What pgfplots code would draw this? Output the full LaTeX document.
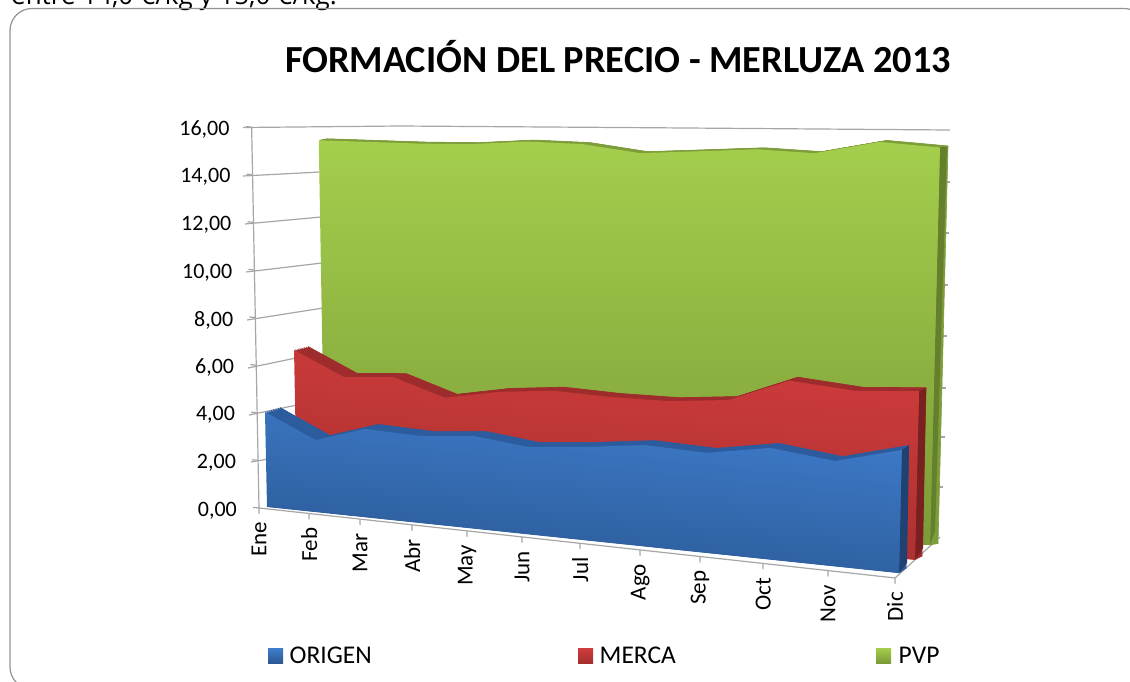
\documentclass[border=0pt]{standalone}
\usepackage{pgfplots}
\usepackage{pgfplotstable}
\usepackage{fontspec}
\pgfplotsset{compat=1.18}
\setmainfont{Carlito}
\newfontfamily\bodyfont{Open Sans}
\definecolor{gridgray}{HTML}{A6A6A6}
\definecolor{blueT}{HTML}{3F7DCE}\definecolor{blueB}{HTML}{2A5892}
\definecolor{blueBand}{HTML}{2C5C9E}\definecolor{blueSide}{HTML}{1F4272}
\definecolor{redT}{HTML}{D03C3C}\definecolor{redB}{HTML}{A62E2E}
\definecolor{redBand}{HTML}{9E2C2C}\definecolor{redSide}{HTML}{7A2020}
\definecolor{greenT}{HTML}{A4CE4C}\definecolor{greenB}{HTML}{7B9B38}
\definecolor{greenBand}{HTML}{7D9C3A}\definecolor{greenSide}{HTML}{64802C}
% last two rows of each table close the area on the floor
\pgfplotstableread{
px val
267 3.96
317 2.95
366 3.55
421 3.43
474 3.58
528 3.31
585 3.47
644 3.69
706 3.57
769 3.90
833 3.60
899 4.13
899 0
267 0
}\origen
\pgfplotstableread{
px val
297 6.50
346 5.49
395 5.60
446 4.88
499 5.24
553 5.41
610 5.29
669 5.26
727 5.43
787 6.28
853 6.03
915 6.14
915 0
297 0
}\merca
\pgfplotstableread{
px val
325 15.20
375 15.20
424 15.20
474 15.25
528 15.43
582 15.40
638 15.11
694 15.26
752 15.42
808 15.34
871 15.87
930 15.73
930 0
325 0
}\pvp
\newcommand{\setgeom}[7]{\def\xO{#1}\def\yO{#2}\def\mO{#3}\def\rO{#4}\def\dxO{#5}\def\dxS{#6}\def\dyO{#7}}
\newcommand{\hh}{(\thisrow{val}*(24+(\thisrow{px}-\xO)*\rO))}
\newcommand{\shape}[3]{\addplot[#3] table[
  x expr={\thisrow{px}+(\thisrow{px}-570)*0.00007*\hh+#2*(\dxO+(\thisrow{px}-\xO)*\dxS)},
  y expr={\yO+(\thisrow{px}-\xO)*\mO-\hh+#2*\dyO}] {#1};}
\newcommand{\extruded}[7]{% table, band, side colour, top, bottom, side polygon, angle
  \shape{#1}{1}{draw=#2,line width=0.6pt,fill=#2}
  \shape{#1}{0.85}{draw=#2,line width=0.6pt,fill=#2}
  \shape{#1}{0.7}{draw=#2,line width=0.6pt,fill=#2}
  \shape{#1}{0.55}{draw=#2,line width=0.6pt,fill=#2}
  \shape{#1}{0.4}{draw=#2,line width=0.6pt,fill=#2}
  \shape{#1}{0.25}{draw=#2,line width=0.6pt,fill=#2}
  \shape{#1}{0.1}{draw=#2,line width=0.6pt,fill=#2}
  \addplot[draw=none,fill=#3] coordinates {#6};
  \shape{#1}{0}{draw=none,shading=axis,top color=#4,bottom color=#5,shading angle=#7}
}
\begin{document}
\begin{tikzpicture}[x=1pt,y=1pt]
\clip (0,0) rectangle (1130,681);
\path (0,0) rectangle (1130,681);
\node[anchor=base west,inner sep=0pt,font=\bodyfont\fontsize{26}{26}\selectfont] at (11,676.5) {entre 14,0 €/kg y 15,0 €/kg.};
\draw[color=gray!85,line width=1.2pt,rounded corners=22pt] (10,336) -- (10,672.5) -- (1146,672.5) -- (1146,-8) -- (10,-8) -- cycle;
\begin{axis}[at={(0,0)},anchor=south west,scale only axis,width=1130pt,height=681pt,
  xmin=0,xmax=1130,ymin=0,ymax=681,y dir=reverse,hide axis,clip=false]
  % side wall and back wall rules
  \draw[gridgray,line width=1.2pt] (axis cs:243,127.5) -- (axis cs:400,126) -- (axis cs:620,127.5) -- (axis cs:950,130);
  \draw[gridgray,line width=1.2pt] (axis cs:243,176) -- (axis cs:320,172);
  \draw[gridgray,line width=1.2pt] (axis cs:245,224) -- (axis cs:321,217);
  \draw[gridgray,line width=1.2pt] (axis cs:246,272) -- (axis cs:322,263);
  \draw[gridgray,line width=1.2pt] (axis cs:247,320) -- (axis cs:323,308);
  \draw[gridgray,line width=1.2pt] (axis cs:248,368) -- (axis cs:296,358);
  \draw[gridgray,line width=1.2pt] (axis cs:249,415) -- (axis cs:297,405);
  \draw[gridgray,line width=1.2pt] (axis cs:251,462) -- (axis cs:268,459);
  \draw[gridgray,line width=1.2pt] (axis cs:895,578) -- (axis cs:940,537);
  \draw[gridgray,line width=1.2pt] (axis cs:945,182) -- (axis cs:950,182);
  \draw[gridgray,line width=1.2pt] (axis cs:944,233) -- (axis cs:949,233);
  \draw[gridgray,line width=1.2pt] (axis cs:943,285) -- (axis cs:948,285);
  \draw[gridgray,line width=1.2pt] (axis cs:942,336) -- (axis cs:947,336);
  \draw[gridgray,line width=1.2pt] (axis cs:941,388) -- (axis cs:946,388);
  \draw[gridgray,line width=1.2pt] (axis cs:940,437) -- (axis cs:945,437);
  \draw[gridgray,line width=1.2pt] (axis cs:938,487) -- (axis cs:943,487);
  \setgeom{323}{505}{0.0659}{0.0021}{8}{0}{-1.5}
  \extruded{\pvp}{greenBand}{greenSide}{greenT}{greenB}{(940,147) (947,147) (935,531) (930,545)}{0}
  \setgeom{297}{506}{0.087}{0.0056}{14}{-0.0113}{-3.5}
  \extruded{\merca}{redBand}{redSide}{redT}{redB}{(919,391) (926,388) (923,548) (915,560)}{-5}
  \setgeom{267}{507}{0.1046}{0.0092}{15}{-0.0127}{-4.5}
  \extruded{\origen}{blueBand}{blueSide}{blueT}{blueB}{(902,450) (909,445) (907,563) (899,573)}{-6}
\end{axis}
\begin{axis}[at={(259pt,173pt)},anchor=origin,
  x={(1pt,-0.11pt)},y={(-0.46pt,23.8pt)},
  xmin=0,xmax=636,ymin=0,ymax=16,
  axis x line=bottom,axis y line=left,axis line style={-,gridgray,line width=1.2pt},
  tick style={gridgray,line width=1.2pt},major tick length=6pt,tick align=outside,
  xtick={0,50,101,153,208,263,321,381,441,504,569,636},
  xticklabels={Ene,Feb,Mar,Abr,May,Jun,Jul,Ago,Sep,Oct,Nov,Dic},
  ytick={0,2,...,16},
  x tick label style={rotate=90,anchor=east,font=\fontsize{23}{23}\selectfont,inner sep=0pt,xshift=-8pt},
  y tick label style={anchor=east,font=\fontsize{22}{22}\selectfont,inner sep=0pt,xshift=-16pt,yshift=-3pt,
    /pgf/number format/.cd,fixed,fixed zerofill,precision=2,use comma,assume math mode=true}]
\end{axis}
\node[anchor=base,font=\bfseries\fontsize{38.3}{38}\selectfont] at (618,608) {FORMACIÓN DEL PRECIO - MERLUZA 2013};
\shade[top color=blueT,bottom color=blueB] (268,18) rectangle (283,33);
\node[anchor=base west,inner sep=0pt,font=\fontsize{25.5}{25}\selectfont] at (289.5,18) {ORIGEN};
\shade[top color=redT,bottom color=redB] (578,18) rectangle (593,33);
\node[anchor=base west,inner sep=0pt,font=\fontsize{25.5}{25}\selectfont] at (599.5,18) {MERCA};
\shade[top color=greenT,bottom color=greenB] (876,18) rectangle (891,33);
\node[anchor=base west,inner sep=0pt,font=\fontsize{25.5}{25}\selectfont] at (898.5,18) {PVP};
\end{tikzpicture}
\end{document}
